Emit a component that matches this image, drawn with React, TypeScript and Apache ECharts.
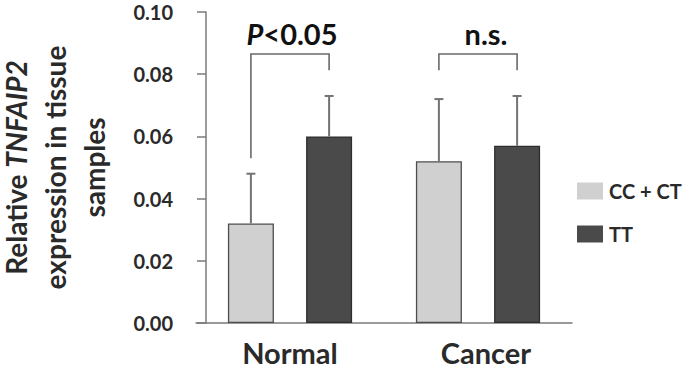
import React, { useEffect, useRef } from 'react';
import * as echarts from 'echarts';

// Genotype groups and tissue categories
const categories = ['Normal', 'Cancer'];
const groupNames = ['CC + CT', 'TT'];

// Mean relative expression and upper error (SD) per tissue type
const ccCtMeans = [0.032, 0.052];
const ccCtErrors = [0.016, 0.020];
const ttMeans = [0.060, 0.057];
const ttErrors = [0.013, 0.016];

// Y axis range and tick step
const yMin = 0;
const yMax = 0.1;
const yStep = 0.02;

// Y axis title, one entry per line (braces mark the italic gene symbol)
const yTitleLines = ['Relative {it|TNFAIP2}', 'expression in tissue', 'samples'];

// Significance brackets: top level, leg ends and annotation text
const significanceLabels = ['P<0.05', 'n.s.'];
const bracketTop = [0.0865, 0.0865];
const bracketLeftEnd = [0.053, 0.0813];
const bracketRightEnd = [0.0813, 0.0813];
const labelLevel = [0.0932, 0.0932];

const FONT = 'Lato, "Open Sans", sans-serif';
const TEXT_COLOR = '#2a2a2a';
const LIGHT = '#d0d0d0';
const DARK = '#4a4a4a';
const BAR_WIDTH = 46;
const BAR_GAP = 0.7; // fraction of bar width
const BAR_OFFSET = (BAR_WIDTH + BAR_WIDTH * BAR_GAP) / 2;

const GRID = { left: 196, right: 126, top: 12, bottom: 46 };
const CHART_H = 369;
const TITLE_SIZE = 28;
const TITLE_LINE_X = [16, 55, 94];
// horizontal nudge of the right-hand group's texts (pixels)
const RIGHT_TEXT_SHIFT = 8;

function errorBarSeries(name: string, means: number[], errors: number[], side: number) {
  return {
    type: 'custom',
    name: name + ' SD',
    z: 3,
    silent: true,
    data: means.map((m, i) => [i, m, errors[i]]),
    renderItem: (params: any, api: any) => {
      const cat = api.value(0);
      const mean = api.value(1);
      const err = api.value(2);
      const base = api.coord([cat, mean]);
      const top = api.coord([cat, mean + err]);
      const x = base[0] + side * BAR_OFFSET;
      const style = { stroke: '#737373', lineWidth: 2 };
      return {
        type: 'group',
        children: [
          { type: 'line', shape: { x1: x, y1: base[1], x2: x, y2: top[1] }, style },
          { type: 'line', shape: { x1: x - 4.5, y1: top[1], x2: x + 4.5, y2: top[1] }, style },
        ],
      };
    },
  };
}

export default function App() {
  const ref = useRef<HTMLDivElement>(null);

  useEffect(() => {
    if (!ref.current) return;
    const chart = echarts.init(ref.current, undefined, { renderer: 'svg' });

    const titleCenterY = GRID.top + (CHART_H - GRID.top - GRID.bottom) / 2;
    const titleStyle = {
      fontFamily: FONT,
      fontWeight: 'bold',
      fontSize: TITLE_SIZE,
      fill: TEXT_COLOR,
    };

    const option = {
      animation: false,
      backgroundColor: '#ffffff',
      grid: { ...GRID, outerBoundsMode: 'none' },
      graphic: yTitleLines.map((line, i) => ({
        type: 'text',
        x: TITLE_LINE_X[i],
        y: titleCenterY,
        rotation: Math.PI / 2,
        silent: true,
        style: {
          ...titleStyle,
          text: line,
          align: 'center',
          verticalAlign: 'middle',
          rich: { it: { ...titleStyle, fontStyle: 'italic' } },
        },
      })),
      legend: {
        data: groupNames,
        orient: 'vertical',
        left: 577,
        top: 181,
        padding: 0,
        itemWidth: 26,
        itemHeight: 17,
        itemGap: 23,
        icon: 'rect',
        itemStyle: { borderWidth: 0 },
        textStyle: { fontFamily: FONT, fontWeight: 'bold', fontSize: 20, color: TEXT_COLOR, padding: [0, 0, 0, 1] },
      },
      xAxis: {
        type: 'category',
        data: categories,
        axisLine: { lineStyle: { color: '#7a7a7a', width: 1.5 } },
        axisTick: { show: false },
        axisLabel: {
          margin: 15,
          fontFamily: FONT,
          fontWeight: 'bold',
          fontSize: 29,
          lineHeight: 28,
          color: TEXT_COLOR,
          formatter: (v: string, i: number) => (i === 1 ? '{r|' + v + '}' : v),
          rich: {
            r: {
              fontFamily: FONT,
              fontWeight: 'bold',
              fontSize: 29,
              lineHeight: 28,
              color: TEXT_COLOR,
              padding: [0, 0, 0, RIGHT_TEXT_SHIFT * 2],
            },
          },
        },
      },
      yAxis: {
        type: 'value',
        min: yMin,
        max: yMax,
        interval: yStep,
        offset: -10,
        splitLine: { show: false },
        axisLine: { show: true, lineStyle: { color: '#7a7a7a', width: 1.5 } },
        axisTick: { show: true, length: 9, lineStyle: { color: '#7a7a7a', width: 1.5 } },
        axisLabel: {
          margin: 33,
          fontFamily: FONT,
          fontWeight: 'bold',
          fontSize: 20,
          color: TEXT_COLOR,
          formatter: (v: number) => v.toFixed(2),
        },
      },
      series: [
        {
          type: 'bar',
          name: groupNames[0],
          data: ccCtMeans,
          barWidth: BAR_WIDTH,
          barGap: BAR_GAP * 100 + '%',
          itemStyle: { color: LIGHT, borderColor: '#4d4d4d', borderWidth: 1.3 },
        },
        {
          type: 'bar',
          name: groupNames[1],
          data: ttMeans,
          barWidth: BAR_WIDTH,
          barGap: BAR_GAP * 100 + '%',
          itemStyle: { color: DARK, borderColor: '#2e2e2e', borderWidth: 1.3 },
        },
        errorBarSeries(groupNames[0], ccCtMeans, ccCtErrors, -1),
        errorBarSeries(groupNames[1], ttMeans, ttErrors, 1),
        {
          type: 'custom',
          name: 'significance',
          silent: true,
          z: 4,
          data: categories.map((_, i) => [i, bracketTop[i], bracketLeftEnd[i], bracketRightEnd[i], labelLevel[i]]),
          renderItem: (params: any, api: any) => {
            const cat = api.value(0);
            const topY = api.coord([cat, api.value(1)])[1];
            const leftY = api.coord([cat, api.value(2)])[1];
            const rightY = api.coord([cat, api.value(3)])[1];
            const center = api.coord([cat, api.value(4)]);
            const xl = center[0] - BAR_OFFSET;
            const xr = center[0] + BAR_OFFSET;
            const text = significanceLabels[params.dataIndex];
            const isP = text.startsWith('P');
            const shift = params.dataIndex === 1 ? RIGHT_TEXT_SHIFT : 2;
            return {
              type: 'group',
              children: [
                {
                  type: 'polyline',
                  shape: { points: [[xl, leftY], [xl, topY], [xr, topY], [xr, rightY]] },
                  style: { stroke: '#6a6a6a', lineWidth: 1.6, fill: null },
                },
                {
                  type: 'text',
                  x: center[0] + shift,
                  y: center[1],
                  style: {
                    text: isP ? '{it|P}' + text.slice(1) : text,
                    align: 'center',
                    verticalAlign: 'middle',
                    fontFamily: FONT,
                    fontWeight: 'bold',
                    fontSize: 29,
                    fill: '#111111',
                    rich: {
                      it: { fontFamily: FONT, fontWeight: 'bold', fontStyle: 'italic', fontSize: 29, fill: '#111111' },
                    },
                  },
                },
              ],
            };
          },
        },
      ],
    };

    chart.setOption(option as any);
    return () => chart.dispose();
  }, []);

  return (
    <div
      ref={ref}
      style={{ position: 'absolute', left: 0, top: 0, width: 698, height: 369 }}
    />
  );
}
